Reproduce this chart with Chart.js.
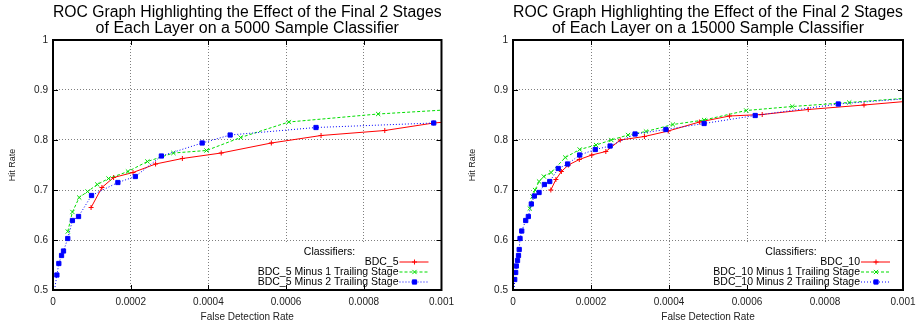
<!DOCTYPE html>
<html>
<head>
<meta charset="utf-8">
<script src="https://cdn.jsdelivr.net/npm/chart.js@4.4.1/dist/chart.umd.min.js"></script>
<style>
  html, body { margin: 0; padding: 0; background: #fff; }
  #wrap { position: relative; width: 923px; height: 325px; }
  .box { position: absolute; top: 0; height: 325px; }
</style>
</head>
<body>
<div id="wrap">
  <div class="box" style="left:0;width:460px"><canvas id="roc5"></canvas></div>
  <div class="box" style="left:460px;width:463px"><canvas id="roc15"></canvas></div>
</div>
<script>
// tick labels
const X_TICK_LABELS = ['0', '0.0002', '0.0004', '0.0006', '0.0008', '0.001'];
const Y_TICK_LABELS = ['0.5', '0.6', '0.7', '0.8', '0.9', '1'];

// 5000 sample classifier
const bdc5Fdr = [0.000098, 0.000126, 0.000156, 0.000206, 0.000264, 0.000333, 0.000433, 0.000562, 0.00069, 0.000854, 0.00098, 0.00104];
const bdc5Hit = [0.665, 0.705, 0.725, 0.735, 0.752, 0.763, 0.774, 0.794, 0.809, 0.819, 0.834, 0.838];
const bdc5m1Fdr = [0.000038, 0.00005, 0.0000675, 0.000089, 0.000114, 0.000143, 0.000193, 0.000243, 0.00031, 0.000395, 0.000483, 0.000607, 0.000837, 0.00105];
const bdc5m1Hit = [0.617, 0.656, 0.685, 0.697, 0.711, 0.723, 0.737, 0.757, 0.774, 0.779, 0.805, 0.836, 0.852, 0.862];
const bdc5m2Fdr = [0.000004, 0.00001, 0.000015, 0.000022, 0.000027, 0.000038, 0.00005, 0.0000657, 0.0000992, 0.000167, 0.000212, 0.000279, 0.000384, 0.000456, 0.000677, 0.00098];
const bdc5m2Hit = [0.5, 0.53, 0.553, 0.569, 0.578, 0.603, 0.639, 0.647, 0.689, 0.715, 0.727, 0.768, 0.794, 0.81, 0.825, 0.834];

// 15000 sample classifier
const bdc10Fdr = [0.000097, 0.00011, 0.000124, 0.000142, 0.00017, 0.000202, 0.000238, 0.000275, 0.000337, 0.000398, 0.000478, 0.000555, 0.000639, 0.000757, 0.0009, 0.00105];
const bdc10Hit = [0.70, 0.721, 0.737, 0.75, 0.761, 0.77, 0.777, 0.80, 0.807, 0.818, 0.836, 0.848, 0.851, 0.861, 0.87, 0.88];
const bdc10m1Fdr = [0.000043, 0.00005, 0.0000566, 0.0000668, 0.000079, 0.0000977, 0.000134, 0.000171, 0.000213, 0.000252, 0.000295, 0.000341, 0.00041, 0.00049, 0.000598, 0.000716, 0.000862, 0.00105];
const bdc10m1Hit = [0.663, 0.687, 0.70, 0.717, 0.727, 0.735, 0.765, 0.781, 0.79, 0.80, 0.81, 0.817, 0.831, 0.84, 0.859, 0.867, 0.875, 0.886];
const bdc10m2Fdr = [0.000003, 0.0000044, 0.0000069, 0.0000085, 0.0000116, 0.0000141, 0.0000159, 0.000018, 0.0000224, 0.0000326, 0.0000393, 0.000047, 0.0000548, 0.0000668, 0.0000805, 0.0000942, 0.000116, 0.00014, 0.000171, 0.000211, 0.000249, 0.000313, 0.000392, 0.00049, 0.000621, 0.000834, 0.00105];
const bdc10m2Hit = [0.5, 0.521, 0.535, 0.548, 0.559, 0.569, 0.581, 0.603, 0.618, 0.639, 0.647, 0.672, 0.688, 0.695, 0.711, 0.717, 0.743, 0.752, 0.77, 0.781, 0.788, 0.812, 0.821, 0.833, 0.849, 0.872, 0.885];

const FONT = '"Liberation Sans", Arial, Helvetica, sans-serif';
Chart.defaults.font.family = FONT;
Chart.defaults.color = '#000';

function series(label, fdr, hit, color, dash, style, radius, order) {
  return {
    label: label,
    data: fdr.map((x, i) => ({ x: x, y: hit[i] })),
    showLine: true,
    borderColor: color,
    backgroundColor: color,
    pointBackgroundColor: color,
    pointBorderColor: color,
    borderWidth: 1,
    borderDash: dash,
    pointStyle: style,
    keyRadius: radius,
    // no marker where the curve runs into the bottom axis
    pointRadius: (c) => (c.raw && c.raw.y <= 0.5 ? 0 : radius),
    pointBorderWidth: 1,
    tension: 0,
    order: order
  };
}

// gnuplot style key, bottom right inside the plot
const keyPlugin = {
  id: 'gnuKey',
  beforeDatasetsDraw(chart) {
    const { ctx, chartArea: ca } = chart;
    const sets = chart.data.datasets;
    ctx.save();
    ctx.font = '10.5px ' + FONT;
    let maxW = 0;
    sets.forEach(d => { maxW = Math.max(maxW, ctx.measureText(d.label).width); });
    const textRight = ca.right - 43;
    const boxLeft = textRight - maxW - 3;
    ctx.fillStyle = '#fff';
    ctx.fillRect(boxLeft, ca.bottom - 46, ca.right - boxLeft, 46);
    ctx.fillStyle = '#000';
    ctx.textBaseline = 'middle';
    ctx.textAlign = 'center';
    ctx.fillText('Classifiers:', ca.right - 112, ca.bottom - 38);
    ctx.textAlign = 'right';
    sets.forEach((d, i) => {
      const y = ca.bottom - 28 + i * 10;
      ctx.fillStyle = '#000';
      ctx.fillText(d.label, textRight, y);
      ctx.strokeStyle = d.borderColor;
      ctx.lineWidth = d.borderWidth;
      ctx.setLineDash(d.borderDash || []);
      ctx.beginPath();
      ctx.moveTo(textRight + 1, y);
      ctx.lineTo(ca.right - 13, y);
      ctx.stroke();
      ctx.setLineDash([]);
      ctx.fillStyle = d.pointBackgroundColor;
      ctx.strokeStyle = d.pointBorderColor;
      ctx.lineWidth = 1;
      Chart.helpers.drawPoint(ctx, { pointStyle: d.pointStyle, radius: d.keyRadius, borderWidth: 1, rotation: 0 }, ca.right - 27, y);
    });
    ctx.restore();
  }
};

// frame with inward ticks on all four sides
const framePlugin = {
  id: 'frame',
  afterDraw(chart) {
    const { ctx, chartArea: ca, scales } = chart;
    ctx.save();
    ctx.strokeStyle = '#000';
    ctx.lineWidth = 1;
    ctx.beginPath();
    scales.x.ticks.forEach(t => {
      const px = Math.round(scales.x.getPixelForValue(t.value)) + 0.5;
      ctx.moveTo(px, ca.bottom); ctx.lineTo(px, ca.bottom - 5);
      ctx.moveTo(px, ca.top); ctx.lineTo(px, ca.top + 5);
    });
    scales.y.ticks.forEach(t => {
      const py = Math.round(scales.y.getPixelForValue(t.value)) + 0.5;
      ctx.moveTo(ca.left, py); ctx.lineTo(ca.left + 5, py);
      ctx.moveTo(ca.right, py); ctx.lineTo(ca.right - 5, py);
    });
    ctx.stroke();
    ctx.lineWidth = 2;
    ctx.strokeRect(ca.left, ca.top, ca.right - ca.left, ca.bottom - ca.top);
    ctx.restore();
  }
};

function makeChart(id, titleLine2, datasets, rightPad) {
  return new Chart(document.getElementById(id), {
    type: 'scatter',
    data: { datasets: datasets },
    plugins: [keyPlugin, framePlugin],
    options: {
      responsive: true,
      maintainAspectRatio: false,
      animation: false,
      layout: { padding: { left: 0, right: rightPad, top: 0, bottom: 0 } },
      plugins: {
        legend: { display: false },
        tooltip: { enabled: false },
        title: {
          display: true,
          fullSize: false,
          text: ['ROC Graph Highlighting the Effect of the Final 2 Stages', titleLine2],
          font: { size: 16, weight: 'normal', lineHeight: 1 },
          color: '#000',
          padding: { top: 5, bottom: 3 }
        }
      },
      scales: {
        x: {
          type: 'linear',
          min: 0,
          max: 0.001,
          ticks: {
            stepSize: 0.0002,
            padding: 6,
            autoSkip: false,
            maxRotation: 0,
            color: '#222',
            font: { size: 10 },
            callback: (v, i) => X_TICK_LABELS[i]
          },
          grid: { color: 'rgba(0,0,0,0.5)', lineWidth: 1, drawTicks: false },
          border: { display: false, dash: [1, 2] },
          title: { display: true, text: 'False Detection Rate', color: '#222', font: { size: 10 }, padding: { top: 0, bottom: 2 } },
          afterFit: (s) => { s.height = 35; }
        },
        y: {
          type: 'linear',
          min: 0.5,
          max: 1,
          ticks: {
            stepSize: 0.1,
            padding: 5,
            color: '#222',
            font: { size: 10 },
            callback: (v, i) => Y_TICK_LABELS[i]
          },
          grid: { color: 'rgba(0,0,0,0.5)', lineWidth: 1, drawTicks: false },
          border: { display: false, dash: [1, 2] },
          title: { display: true, text: 'Hit Rate', color: '#222', font: { size: 9 }, padding: { top: 7, bottom: 0 } },
          afterFit: (s) => { s.width = 53; }
        }
      }
    }
  });
}

makeChart('roc5', 'of Each Layer on a 5000 Sample Classifier', [
  series('BDC_5', bdc5Fdr, bdc5Hit, '#ff0000', [], 'cross', 2.5, 3),
  series('BDC_5 Minus 1 Trailing Stage', bdc5m1Fdr, bdc5m1Hit, '#00dd00', [3, 2], 'crossRot', 3, 2),
  series('BDC_5 Minus 2 Trailing Stage', bdc5m2Fdr, bdc5m2Hit, '#0000ff', [1, 2], 'rect', 3, 1)
], 18);

makeChart('roc15', 'of Each Layer on a 15000 Sample Classifier', [
  series('BDC_10', bdc10Fdr, bdc10Hit, '#ff0000', [], 'cross', 2.5, 3),
  series('BDC_10 Minus 1 Trailing Stage', bdc10m1Fdr, bdc10m1Hit, '#00dd00', [3, 2], 'crossRot', 3, 2),
  series('BDC_10 Minus 2 Trailing Stage', bdc10m2Fdr, bdc10m2Hit, '#0000ff', [1, 2], 'rect', 3, 1)
], 20);
</script>
</body>
</html>
